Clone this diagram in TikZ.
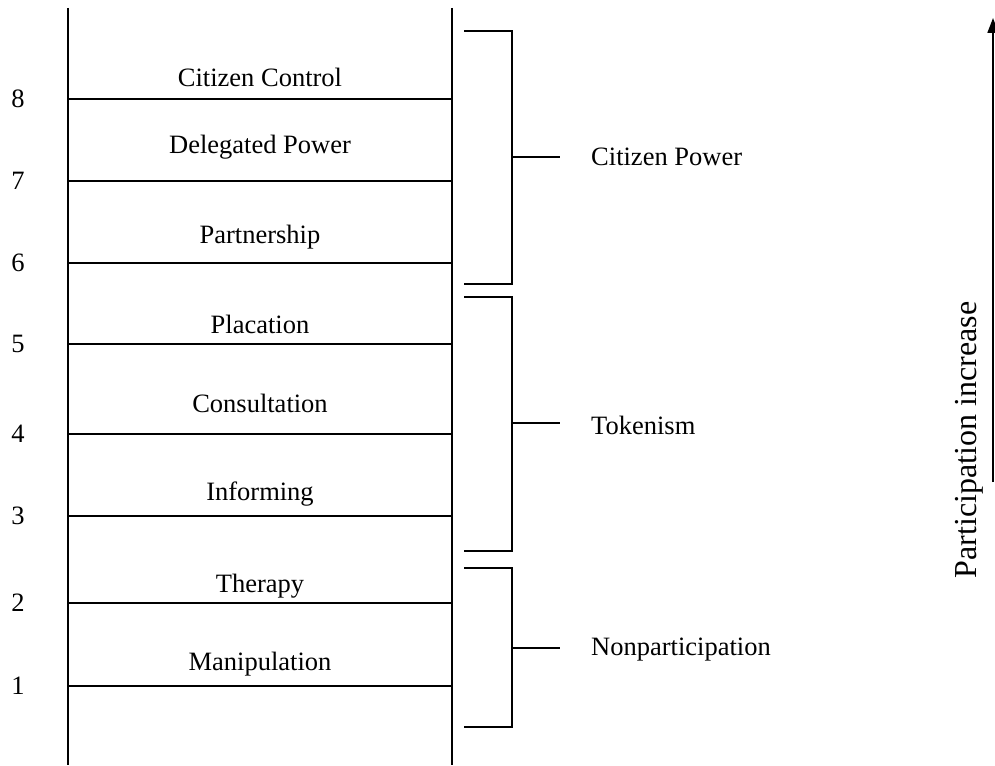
\documentclass[tikz,border=0pt]{standalone}
\usepackage{fontspec}
\setmainfont{Liberation Serif}
\usetikzlibrary{arrows.meta}
\begin{document}
\begin{tikzpicture}[x=1pt,y=-1pt,
  rail/.style={line width=1.8pt},
  rung/.style={line width=1.8pt},
  brk/.style={line width=1.8pt},
  lbl/.style={anchor=base,font=\fontsize{26.5}{30}\selectfont,inner sep=0pt},
  num/.style={anchor=center,font=\fontsize{26.5}{30}\selectfont,inner sep=0pt},
  grp/.style={anchor=west,font=\fontsize{26.5}{30}\selectfont,inner sep=0pt},
  vlbl/.style={rotate=90,anchor=center,font=\fontsize{32}{36}\selectfont,inner sep=0pt},
  uparrow/.style={line width=1.8pt,-{Triangle[length=15pt,width=11pt]}}
]
\useasboundingbox (0,0) rectangle (995,765);
% rails
\coordinate (LT) at (68,8);  \coordinate (LB) at (68,765);
\coordinate (RT) at (452,8); \coordinate (RB) at (452,765);
\draw[rail] (LT) -- (LB);
\draw[rail] (RT) -- (RB);
% rungs and numbers
\foreach \i/\y in {8/99,7/181,6/263,5/344,4/434,3/516,2/603,1/686} {
  \coordinate (rL\i) at (68,\y);
  \coordinate (rR\i) at (452,\y);
  \draw[rung] (rL\i) -- (rR\i);
  \node[num] (n\i) at (18,\y) {\i};
}
% rung labels
\node[lbl] (l8) at (260,87)  {Citizen Control};
\node[lbl] (l7) at (260,153) {Delegated Power};
\node[lbl] (l6) at (260,243) {Partnership};
\node[lbl] (l5) at (260,333) {Placation};
\node[lbl] (l4) at (260,412) {Consultation};
\node[lbl] (l3) at (260,500) {Informing};
\node[lbl] (l2) at (260,592) {Therapy};
\node[lbl] (l1) at (260,670) {Manipulation};
% brackets
\coordinate (a1) at (464,31);  \coordinate (a2) at (512,31);
\coordinate (a3) at (512,284); \coordinate (a4) at (464,284);
\coordinate (am) at (512,157); \coordinate (ae) at (560,157);
\draw[brk] (a1) -- (a2) -- (a3) -- (a4);
\draw[brk] (am) -- (ae);
\node[grp] (gcp) at (591,157) {Citizen Power};

\coordinate (b1) at (464,297); \coordinate (b2) at (512,297);
\coordinate (b3) at (512,551); \coordinate (b4) at (464,551);
\coordinate (bm) at (512,423); \coordinate (be) at (560,423);
\draw[brk] (b1) -- (b2) -- (b3) -- (b4);
\draw[brk] (bm) -- (be);
\node[grp] (gtk) at (591,425) {Tokenism};

\coordinate (c1) at (464,568); \coordinate (c2) at (512,568);
\coordinate (c3) at (512,727); \coordinate (c4) at (464,727);
\coordinate (cm) at (512,648); \coordinate (ce) at (560,648);
\draw[brk] (c1) -- (c2) -- (c3) -- (c4);
\draw[brk] (cm) -- (ce);
\node[grp] (gnp) at (591,650) {Nonparticipation};

% participation arrow
\node[vlbl] (pi) at (969,440) {Participation increase};
\coordinate (ab) at (993,482);
\coordinate (at) at (993,18);
\draw[uparrow] (ab) -- (at);
\end{tikzpicture}
\end{document}
